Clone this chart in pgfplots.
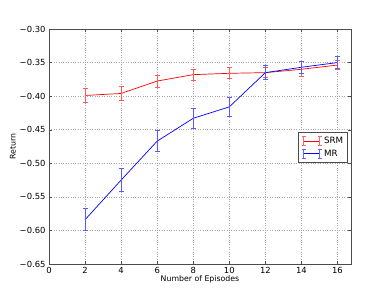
\documentclass[border=0pt]{standalone}
\usepackage{fontspec}
\setmainfont{DejaVu Sans}
\usepackage{pgfplots}
\pgfplotsset{compat=1.18}
\begin{document}
\begin{tikzpicture}[x=1pt,y=1pt]
\path[use as bounding box] (0,0) rectangle (390,294);
\begin{axis}[
  at={(49pt,30pt)}, anchor=south west,
  scale only axis, width=302pt, height=235pt,
  xmin=0, xmax=16.75, ymin=-0.65, ymax=-0.30,
  xtick={0,2,...,16}, ytick={-0.65,-0.60,-0.55,-0.50,-0.45,-0.40,-0.35,-0.30},
  yticklabels={−0.65,−0.60,−0.55,−0.50,−0.45,−0.40,−0.35,−0.30},
  /pgf/number format/assume math mode=true,
  tick label style={font=\fontsize{8.4}{9}\selectfont},
  label style={font=\fontsize{7.8}{9}\selectfont},
  xlabel={Number of Episodes}, ylabel={Return},
  xlabel style={yshift=5pt}, ylabel style={yshift=-3pt},
  grid=major, major grid style={dotted, gray!70, line width=0.6pt},
  tick align=inside, tick pos=both, major tick length=3pt,
  axis line style={black!70, line width=0.8pt},
  tick style={black!70},
  legend style={at={(0.99,0.56)}, anchor=north east, font=\fontsize{8.7}{10}\selectfont,
    draw=black!70, line width=0.7pt, row sep=0.5pt, inner sep=2.5pt},
  legend cell align=left,
]
\addlegendimage{legend image code/.code={
    \draw[red, line width=0.7pt] (0pt,0pt) -- (16pt,0pt);
    \draw[red!60, line width=0.9pt] (0pt,-4.5pt) -- (0pt,4.5pt);
    \draw[red!60, line width=0.9pt] (16pt,-4.5pt) -- (16pt,4.5pt);
    \draw[red!60, line width=0.9pt] (-2pt,4.5pt) -- (2pt,4.5pt);
    \draw[red!60, line width=0.9pt] (-2pt,-4.5pt) -- (2pt,-4.5pt);
    \draw[red!60, line width=0.9pt] (14pt,4.5pt) -- (18pt,4.5pt);
    \draw[red!60, line width=0.9pt] (14pt,-4.5pt) -- (18pt,-4.5pt);
  }}
\addlegendentry{SRM}
\addlegendimage{legend image code/.code={
    \draw[blue, line width=0.7pt] (0pt,0pt) -- (16pt,0pt);
    \draw[blue!60, line width=0.9pt] (0pt,-4.5pt) -- (0pt,4.5pt);
    \draw[blue!60, line width=0.9pt] (16pt,-4.5pt) -- (16pt,4.5pt);
    \draw[blue!60, line width=0.9pt] (-2pt,4.5pt) -- (2pt,4.5pt);
    \draw[blue!60, line width=0.9pt] (-2pt,-4.5pt) -- (2pt,-4.5pt);
    \draw[blue!60, line width=0.9pt] (14pt,4.5pt) -- (18pt,4.5pt);
    \draw[blue!60, line width=0.9pt] (14pt,-4.5pt) -- (18pt,-4.5pt);
  }}
\addlegendentry{MR}
\addplot[red, line width=0.7pt, forget plot,
  error bars/.cd, y dir=both, y explicit,
  error bar style={red!65, line width=0.9pt},
  error mark options={rotate=90, mark size=2.5pt, red!65, line width=0.9pt}]
coordinates {
  (2,-0.399) +- (0,0.011)
  (4,-0.396) +- (0,0.010)
  (6,-0.3775) +- (0,0.009)
  (8,-0.368) +- (0,0.008)
  (10,-0.366) +- (0,0.008)
  (12,-0.365) +- (0,0.007)
  (14,-0.360) +- (0,0.011)
  (16,-0.3537) +- (0,0.007)
};
\addplot[blue, line width=0.7pt, forget plot,
  error bars/.cd, y dir=both, y explicit,
  error bar style={blue!65, line width=0.9pt},
  error mark options={rotate=90, mark size=2.5pt, blue!65, line width=0.9pt}]
coordinates {
  (2,-0.584) +- (0,0.016)
  (4,-0.525) +- (0,0.017)
  (6,-0.467) +- (0,0.016)
  (8,-0.433) +- (0,0.015)
  (10,-0.416) +- (0,0.014)
  (12,-0.365) +- (0,0.010)
  (14,-0.357) +- (0,0.009)
  (16,-0.350) +- (0,0.009)
};
\end{axis}
\end{tikzpicture}
\end{document}
